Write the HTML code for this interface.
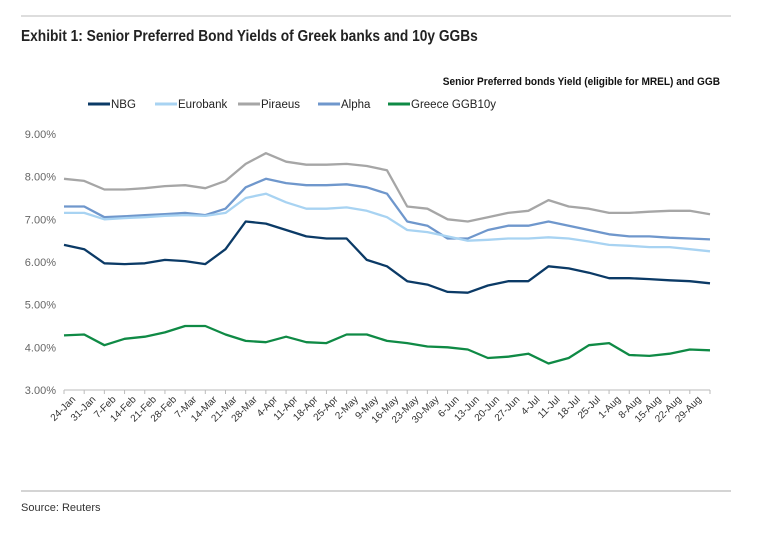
<!DOCTYPE html>
<html><head><meta charset="utf-8"><style>
body{margin:0;background:#fff;width:760px;height:536px;overflow:hidden;font-family:"Liberation Sans",sans-serif}
</style></head><body>
<svg width="760" height="536">
<line x1="21" y1="16" x2="731" y2="16" stroke="#bbb" stroke-width="1"/>
<text x="21" y="41" font-size="16" font-weight="bold" fill="#222" transform="translate(21,0) scale(0.86,1) translate(-21,0)">Exhibit 1: Senior Preferred Bond Yields of Greek banks and 10y GGBs</text>
<text x="720" y="85" font-size="11" font-weight="bold" fill="#111" text-anchor="end" transform="translate(720,0) scale(0.92,1) translate(-720,0)">Senior Preferred bonds Yield (eligible for MREL) and GGB</text>
<g id="legend"></g>
<g id="yaxis"></g>
<g id="xaxis"></g>
<g id="series"></g>
<line x1="21" y1="491" x2="731" y2="491" stroke="#aaa" stroke-width="1"/>
<text x="21" y="511" font-size="11" fill="#333">Source: Reuters</text>
</svg>
<script>
const categories=["24-Jan","31-Jan","7-Feb","14-Feb","21-Feb","28-Feb","7-Mar","14-Mar","21-Mar","28-Mar","4-Apr","11-Apr","18-Apr","25-Apr","2-May","9-May","16-May","23-May","30-May","6-Jun","13-Jun","20-Jun","27-Jun","4-Jul","11-Jul","18-Jul","25-Jul","1-Aug","8-Aug","15-Aug","22-Aug","29-Aug"];
const yTicks=[3,4,5,6,7,8,9];
const nbg=[6.4,6.3,5.97,5.95,5.97,6.05,6.02,5.95,6.3,6.95,6.9,6.75,6.6,6.55,6.55,6.05,5.9,5.55,5.47,5.3,5.28,5.45,5.55,5.55,5.9,5.85,5.75,5.62,5.62,5.6,5.57,5.55,5.5];
const eurobank=[7.15,7.15,7.0,7.03,7.05,7.08,7.1,7.08,7.15,7.5,7.6,7.4,7.25,7.25,7.28,7.2,7.05,6.75,6.7,6.6,6.5,6.52,6.55,6.55,6.58,6.55,6.48,6.4,6.38,6.35,6.35,6.3,6.25];
const piraeus=[7.95,7.9,7.7,7.7,7.73,7.78,7.8,7.73,7.9,8.3,8.55,8.35,8.28,8.28,8.3,8.25,8.15,7.3,7.25,7.0,6.95,7.05,7.15,7.2,7.45,7.3,7.25,7.15,7.15,7.18,7.2,7.2,7.12];
const alpha=[7.3,7.3,7.05,7.07,7.1,7.12,7.15,7.1,7.25,7.75,7.95,7.85,7.8,7.8,7.82,7.75,7.6,6.95,6.85,6.55,6.55,6.75,6.85,6.85,6.95,6.85,6.75,6.65,6.6,6.6,6.57,6.55,6.53];
const ggb=[4.28,4.3,4.05,4.2,4.25,4.35,4.5,4.5,4.3,4.15,4.12,4.25,4.12,4.1,4.3,4.3,4.15,4.1,4.02,4.0,3.95,3.75,3.78,3.85,3.62,3.75,4.05,4.1,3.82,3.8,3.85,3.95,3.93];
const seriesNames=["NBG","Eurobank","Piraeus","Alpha","Greece GGB10y"];
const seriesColors=["#0b3a66","#a8d3f2","#a6a6a6","#6f97cc","#0f8a45"];
const seriesData=[nbg,eurobank,piraeus,alpha,ggb];
const X0=64,X1=710,Y0=390,Y1=134,NS="http://www.w3.org/2000/svg";
function xs(i){return X0+(X1-X0)*i/categories.length;}
function ys(v){return Y0-(v-3)/6*(Y0-Y1);}
function mk(t,a,p){const e=document.createElementNS(NS,t);for(const k in a)e.setAttribute(k,a[k]);p.appendChild(e);return e;}
const ya=document.getElementById('yaxis');
yTicks.forEach(v=>{const t=mk('text',{x:56,y:ys(v)+4,'font-size':11,fill:'#666','text-anchor':'end'},ya);t.textContent=v.toFixed(2)+'%';

});
const xa=document.getElementById('xaxis');
const ax=mk('line',{x1:X0,y1:Y0,x2:X1,y2:Y0,stroke:'#bbb'},xa);


for(let i=0;i<=categories.length;i++){const l=mk('line',{x1:xs(i),y1:Y0,x2:xs(i),y2:Y0+4,stroke:'#bbb'},xa);

}
categories.forEach((c,i)=>{const x=xs(i)+12,y=Y0+10;const t=mk('text',{x:x,y:y,'font-size':10,fill:'#333','text-anchor':'end',transform:`rotate(-45 ${x} ${y})`},xa);t.textContent=c;

});
const sg=document.getElementById('series');
[2,3,1,0,4].forEach(k=>{const d=seriesData[k].map((v,i)=>(i?'L':'M')+xs(i).toFixed(1)+' '+ys(v).toFixed(1)).join(' ');
const p=mk('path',{d:d,fill:'none',stroke:seriesColors[k],'stroke-width':2.3,'stroke-linejoin':'round'},sg);

});
const lg=document.getElementById('legend');
const lx=[88,155,238,318,388];
seriesNames.forEach((n,k)=>{const g=mk('g',{},lg);


mk('line',{x1:lx[k],y1:104,x2:lx[k]+22,y2:104,stroke:seriesColors[k],'stroke-width':3},g);
const t=mk('text',{x:lx[k]+23,y:108,'font-size':11.5,fill:'#222'},g);t.textContent=n;});
</script>
</body></html>
